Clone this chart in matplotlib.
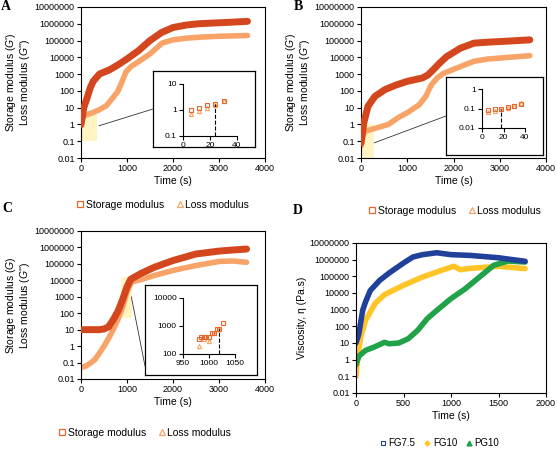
import numpy as np
import matplotlib
matplotlib.use("Agg")
import matplotlib.pyplot as plt
from matplotlib.patches import Rectangle, ConnectionPatch
from matplotlib.lines import Line2D

plt.rcParams['font.family'] = ['Liberation Sans', 'DejaVu Sans']
plt.rcParams['mathtext.fontset'] = 'custom'
plt.rcParams['mathtext.rm'] = 'Liberation Sans'
plt.rcParams['mathtext.it'] = 'Liberation Sans:italic'

W, H = 557, 449

# ---- data ----
# panel A
a_t_sto = [0, 30, 60, 120, 200, 264, 400, 620, 800, 1000, 1250, 1500, 1750, 2000, 2300, 2550, 3000, 3300, 3620]
a_sto = [1, 3, 10, 30, 150, 370, 1000, 1800, 3500, 8000, 25000, 100000, 300000, 600000, 850000, 1000000, 1150000, 1250000, 1400000]
a_t_loss = [0, 30, 60, 120, 250, 400, 550, 660, 800, 900, 980, 1100, 1260, 1500, 1760, 2000, 2300, 2600, 3000, 3620]
a_loss = [0.8, 2.5, 3.2, 3.8, 5, 7.6, 13, 30, 93, 400, 1400, 3000, 5700, 16000, 70000, 110000, 140000, 160000, 180000, 200000]
a_in_t = [6, 12, 18, 24, 30]
a_in_sto = [1.0, 1.2, 1.5, 1.7, 2.3]
a_in_loss = [0.7, 0.9, 1.2, 1.5, 2.2]
a_gel = 24

# panel B
b_t_sto = [0, 30, 60, 150, 300, 520, 750, 1000, 1330, 1450, 1560, 1700, 1850, 2150, 2440, 2740, 3100, 3650]
b_sto = [0.08, 0.3, 1.2, 12, 47, 120, 220, 370, 590, 900, 1800, 4500, 11000, 35000, 70000, 80000, 90000, 110000]
b_t_loss = [0, 40, 75, 220, 400, 590, 800, 1000, 1260, 1400, 1520, 1650, 1780, 2070, 2440, 2740, 3200, 3650]
b_loss = [0.05, 0.2, 0.38, 0.5, 0.7, 1.0, 2.5, 5, 15, 47, 230, 600, 1100, 2300, 5800, 7900, 10000, 12600]
b_in_t = [6, 12, 18, 24, 30, 36]
b_in_sto = [0.08, 0.09, 0.10, 0.12, 0.14, 0.17]
b_in_loss = [0.065, 0.075, 0.09, 0.11, 0.13, 0.19]
b_gel = 18

# panel C
c_t_sto = [0, 200, 400, 500, 600, 700, 800, 900, 1000, 1080, 1300, 1600, 2000, 2500, 3000, 3300, 3600]
c_sto = [10, 10, 10, 11, 15, 40, 125, 630, 4000, 11500, 26000, 63000, 160000, 400000, 600000, 700000, 800000]
c_t_loss = [0, 100, 200, 300, 400, 500, 600, 700, 800, 900, 1000, 1100, 1300, 1600, 2000, 2500, 3000, 3300, 3600]
c_loss = [0.05, 0.06, 0.09, 0.15, 0.37, 1.0, 3, 10, 40, 200, 2000, 8000, 11000, 20000, 40000, 80000, 140000, 150000, 125000]
c_in_t_sto = [980, 985, 990, 995, 1000, 1005, 1010, 1015, 1020, 1027]
c_in_sto = [330, 420, 420, 400, 420, 580, 580, 800, 800, 1300]
c_in_t_loss = [980, 990, 1000, 1010, 1020]
c_in_loss = [200, 330, 280, 550, 800]
c_gel = 1020

# panel D
d_t_fg75 = [0, 30, 70, 100, 150, 250, 350, 500, 600, 700, 850, 1000, 1200, 1500, 1650, 1780]
d_fg75 = [10, 36, 900, 2900, 14000, 58000, 160000, 630000, 1450000, 2000000, 2600000, 2000000, 1800000, 1300000, 1000000, 800000]
d_t_fg10 = [0, 20, 50, 100, 200, 300, 500, 700, 900, 1030, 1100, 1200, 1300, 1500, 1780]
d_fg10 = [0.1, 2, 23, 230, 2300, 8000, 29000, 91000, 230000, 400000, 250000, 300000, 330000, 400000, 290000]
d_t_pg10 = [0, 30, 100, 200, 300, 350, 450, 550, 650, 750, 850, 1000, 1150, 1300, 1450, 1600, 1780]
d_pg10 = [0.5, 1.6, 3.6, 6, 11, 9, 10, 18, 58, 290, 900, 4600, 18000, 91000, 460000, 830000, 720000]

ytick_main = [0.01, 0.1, 1, 10, 100, 1000, 10000, 100000, 1000000, 10000000]

C_STO = '#d4461e'
C_LOSS = '#f8a468'
C_FG75 = '#21409a'
C_FG10 = '#ffc425'
C_PG10 = '#20a348'


def box(x0, y0, x1, y1):
    return [x0 / W, 1 - y1 / H, (x1 - x0) / W, (y1 - y0) / H]


def lab(v):
    return str(int(v)) if v >= 1 else ('%g' % v)


def style(ax, fs=6.5):
    for s in ax.spines.values():
        s.set_linewidth(0.8)
    ax.tick_params(direction='out', length=3, width=0.8, labelsize=fs, pad=1.5)


fig = plt.figure(figsize=(W / 100, H / 100), dpi=100)


def main_axes(rect, ylabel):
    ax = fig.add_axes(rect)
    ax.set_yscale('log')
    ax.set_ylim(0.01, 10000000)
    ax.set_yticks(ytick_main, [lab(v) for v in ytick_main])
    ax.minorticks_off()
    ax.set_xlim(0, 4000)
    ax.set_xticks([0, 1000, 2000, 3000, 4000])
    ax.set_xlabel('Time (s)', fontsize=7.5, labelpad=2)
    ax.set_ylabel(ylabel, fontsize=7.5, labelpad=2, linespacing=1.0)
    style(ax)
    return ax


def inset(frame_rect, ax_rect, xlim, xticks, ylim, yticks):
    fr = fig.add_axes(frame_rect)
    fr.set_xticks([])
    fr.set_yticks([])
    for s in fr.spines.values():
        s.set_linewidth(0.9)
    ia = fig.add_axes(ax_rect)
    ia.set_yscale('log')
    ia.set_xlim(*xlim)
    ia.set_ylim(*ylim)
    ia.set_xticks(xticks)
    ia.set_yticks(yticks, [lab(v) for v in yticks])
    ia.minorticks_off()
    ia.spines['top'].set_visible(False)
    ia.spines['right'].set_visible(False)
    ia.patch.set_alpha(0)
    style(ia, fs=6)
    return fr, ia


gl = "Storage modulus ($\\it{G}$')\nLoss modulus ($\\it{G}$'')"

# ---- A ----
axA = main_axes(box(81, 7, 265, 158), gl)
axA.add_patch(Rectangle((0, 0.1), 350, 3.9, color='#fff0a8', alpha=0.7, lw=0, zorder=1))
axA.plot(a_t_loss, a_loss, color=C_LOSS, lw=4, solid_capstyle='round', zorder=2)
axA.plot(a_t_sto, a_sto, color=C_STO, lw=5, solid_capstyle='round', zorder=3)
frA, inA = inset(box(153, 71, 255, 147), box(183, 84, 237, 136), (0, 40), [0, 20, 40], (0.1, 10), [0.1, 1, 10])
inA.plot(a_in_t, a_in_loss, '^', ms=3, mfc='none', mec=C_LOSS, mew=0.8)
inA.plot(a_in_t, a_in_sto, 's', ms=3, mfc='none', mec='#e8672a', mew=0.8)
inA.plot([a_gel, a_gel], [0.1, a_in_sto[3]], 'k--', lw=0.8)
fig.add_artist(ConnectionPatch((390, 0.83), (0, 0.5), 'data', 'axes fraction', axesA=axA, axesB=frA, lw=0.6, color='#333333'))

# ---- B ----
axB = main_axes(box(361, 7, 546, 158), gl)
axB.add_patch(Rectangle((0, 0.01), 280, 0.99, color='#fff0a8', alpha=0.7, lw=0, zorder=1))
axB.plot(b_t_loss, b_loss, color=C_LOSS, lw=4, solid_capstyle='round', zorder=2)
axB.plot(b_t_sto, b_sto, color=C_STO, lw=5, solid_capstyle='round', zorder=3)
frB, inB = inset(box(446, 77, 543, 155), box(482, 89, 525, 128), (0, 40), [0, 20, 40], (0.01, 1), [0.01, 0.1, 1])
inB.plot(b_in_t, b_in_loss, '^', ms=3, mfc='none', mec=C_LOSS, mew=0.8)
inB.plot(b_in_t, b_in_sto, 's', ms=3, mfc='none', mec='#e8672a', mew=0.8)
inB.plot([b_gel, b_gel], [0.01, b_in_sto[2]], 'k--', lw=0.8)
fig.add_artist(ConnectionPatch((287, 0.08), (0, 0.5), 'data', 'axes fraction', axesA=axB, axesB=frB, lw=0.6, color='#333333'))

# ---- C ----
axC = main_axes(box(81, 231, 265, 379), "Storage modulus ($\\it{G}$)\nLoss modulus ($\\it{G}$'')")
axC.add_patch(Rectangle((880, 50), 230, 14950, color='#fff0a8', alpha=0.7, lw=0, zorder=1))
axC.plot(c_t_loss, c_loss, color=C_LOSS, lw=4, solid_capstyle='round', zorder=2)
axC.plot(c_t_sto, c_sto, color=C_STO, lw=5, solid_capstyle='round', zorder=3)
frC, inC = inset(box(145, 285, 257, 375), box(183, 298, 235, 354), (950, 1050), [950, 1000, 1050], (100, 10000), [100, 1000, 10000])
inC.plot(c_in_t_loss, c_in_loss, '^', ms=3, mfc='none', mec=C_LOSS, mew=0.8)
inC.plot(c_in_t_sto, c_in_sto, 's', ms=3, mfc='none', mec='#e8672a', mew=0.8)
inC.plot([c_gel, c_gel], [100, 800], 'k--', lw=0.8)
fig.add_artist(ConnectionPatch((1094, 1000), (0, 0.1), 'data', 'axes fraction', axesA=axC, axesB=frC, lw=0.6, color='#333333'))

# ---- D ----
axD = fig.add_axes(box(356, 243, 546, 393))
axD.set_yscale('log')
axD.set_ylim(0.01, 10000000)
axD.set_yticks(ytick_main, [lab(v) for v in ytick_main])
axD.minorticks_off()
axD.set_xlim(0, 2000)
axD.set_xticks([0, 500, 1000, 1500, 2000])
axD.set_xlabel('Time (s)', fontsize=7.5, labelpad=2)
axD.set_ylabel('Viscosity, η (Pa.s)', fontsize=7.5, labelpad=2)
style(axD)
axD.plot(d_t_fg10, d_fg10, color=C_FG10, lw=4, solid_capstyle='round')
axD.plot(d_t_pg10, d_pg10, color=C_PG10, lw=4, solid_capstyle='round')
axD.plot(d_t_fg75, d_fg75, color=C_FG75, lw=4, solid_capstyle='round')

# ---- legends ----
h_mod = [Line2D([], [], ls='none', marker='s', ms=4.5, mfc='none', mec='#e8672a', mew=0.9),
         Line2D([], [], ls='none', marker='^', ms=4.5, mfc='none', mec=C_LOSS, mew=0.9)]
n_mod = ['Storage modulus', 'Loss modulus']
for cx, cy in [(163, 205), (455, 211), (145, 433)]:
    fig.legend(h_mod, n_mod, loc='center', bbox_to_anchor=(cx / W, 1 - cy / H), ncol=2, frameon=False,
               fontsize=7.5, handlelength=0.6, handletextpad=0.2, columnspacing=1.2, borderpad=0)
h_d = [Line2D([], [], ls='none', marker='s', ms=3, mfc='none', mec=C_FG75, mew=0.8),
       Line2D([], [], ls='none', marker='D', ms=2.5, mfc=C_FG10, mec=C_FG10),
       Line2D([], [], ls='none', marker='^', ms=3.5, mfc=C_PG10, mec=C_PG10)]
fig.legend(h_d, ['FG7.5', 'FG10', 'PG10'], loc='center', bbox_to_anchor=(440 / W, 1 - 443 / H), ncol=3,
           frameon=False, fontsize=7, handlelength=0.5, handletextpad=0.3, columnspacing=1.0, borderpad=0)

# panel letters
for t, x, y in [('A', 1, 7), ('B', 294, 7), ('C', 2, 208), ('D', 293, 211)]:
    fig.text(x / W, 1 - y / H, t, fontsize=10, fontweight='bold', family='Liberation Serif', va='center', ha='left')

fig.savefig('out.png', dpi=100)
